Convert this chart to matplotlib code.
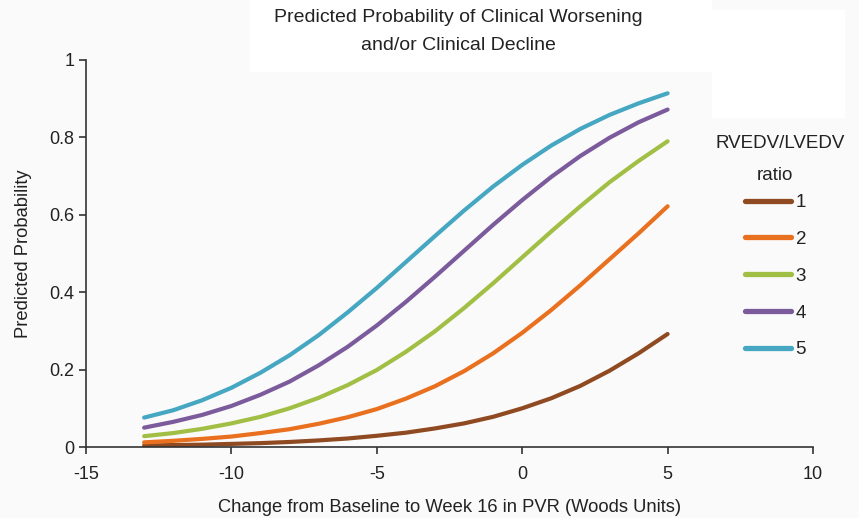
import matplotlib
matplotlib.use("Agg")
import matplotlib.pyplot as plt
from matplotlib.patches import Rectangle

plt.rcParams["font.family"] = ["Liberation Sans", "DejaVu Sans"]
plt.rcParams["axes.unicode_minus"] = False

# change from baseline to week 16 in PVR (Woods units)
pvr_change = [-13, -12, -11, -10, -9, -8, -7, -6, -5, -4, -3, -2, -1, 0, 1, 2, 3, 4, 5]

# predicted probability, one list per RVEDV/LVEDV ratio
ratio_labels = ["1", "2", "3", "4", "5"]
prob_ratio1 = [0.004, 0.005, 0.006, 0.008, 0.010, 0.013, 0.017, 0.022, 0.029, 0.037,
               0.048, 0.061, 0.078, 0.100, 0.126, 0.158, 0.197, 0.242, 0.292]
prob_ratio2 = [0.012, 0.016, 0.021, 0.027, 0.036, 0.046, 0.060, 0.077, 0.098, 0.125,
               0.157, 0.196, 0.242, 0.295, 0.354, 0.418, 0.485, 0.552, 0.622]
prob_ratio3 = [0.028, 0.036, 0.047, 0.061, 0.078, 0.100, 0.127, 0.160, 0.199, 0.246,
               0.299, 0.359, 0.423, 0.490, 0.557, 0.622, 0.684, 0.739, 0.790]
prob_ratio4 = [0.050, 0.065, 0.083, 0.106, 0.135, 0.169, 0.211, 0.259, 0.314, 0.375,
               0.440, 0.507, 0.574, 0.638, 0.698, 0.752, 0.799, 0.839, 0.872]
prob_ratio5 = [0.076, 0.095, 0.121, 0.153, 0.192, 0.237, 0.289, 0.348, 0.411, 0.478,
               0.545, 0.611, 0.673, 0.729, 0.779, 0.822, 0.858, 0.888, 0.914]

colors = ["#8f4a22", "#e8701f", "#a2bf45", "#7b5b9c", "#45a7c1"]
series = [prob_ratio1, prob_ratio2, prob_ratio3, prob_ratio4, prob_ratio5]

W, H = 859, 518
fig = plt.figure(figsize=(W / 100, H / 100), dpi=100, facecolor="#fafafa")

# white panels behind the title and the legend heading
fig.patches.append(Rectangle((250 / W, 1 - 72 / H), 462 / W, 72 / H,
                             transform=fig.transFigure, facecolor="white",
                             edgecolor="none", zorder=-1))
fig.patches.append(Rectangle((712 / W, 1 - 118 / H), 133 / W, 108 / H,
                             transform=fig.transFigure, facecolor="white",
                             edgecolor="none", zorder=-1))

ax = fig.add_axes([86 / W, 1 - 447 / H, 727 / W, 387 / H])
ax.set_facecolor("none")

for probs, color, label in zip(series, colors, ratio_labels):
    ax.plot(pvr_change, probs, color=color, lw=3.0, label=label,
            solid_capstyle="round", solid_joinstyle="round")

ax.set_xlim(-15, 10)
ax.set_ylim(0, 1)
ax.set_xticks([-15, -10, -5, 0, 5, 10])
ax.set_yticks([0, 0.2, 0.4, 0.6, 0.8, 1.0])
ax.set_yticklabels(["0", "0.2", "0.4", "0.6", "0.8", "1"])
ax.tick_params(direction="out", length=5, width=1.2, colors="#333333",
               labelsize=13, labelcolor="#222222")
ax.tick_params(axis="x", pad=9)
for side in ["top", "right"]:
    ax.spines[side].set_visible(False)
for side in ["left", "bottom"]:
    ax.spines[side].set_color("#333333")
    ax.spines[side].set_linewidth(1.2)

ax.set_xlabel("Change from Baseline to Week 16 in PVR (Woods Units)",
              fontsize=13.2, color="#222222", labelpad=11)
ax.set_ylabel("Predicted Probability", fontsize=13.2, color="#222222", labelpad=12)

fig.text(458 / W, 1 - 18 / H, "Predicted Probability of Clinical Worsening",
         ha="center", va="center", fontsize=14, color="#222222")
fig.text(458 / W, 1 - 45 / H, "and/or Clinical Decline",
         ha="center", va="center", fontsize=14, color="#222222")

# legend title drawn separately so the entries can sit off-centre as in the original
fig.text(780 / W, 1 - 143 / H, "RVEDV/LVEDV", ha="center", va="center",
         fontsize=13.5, color="#222222")
fig.text(775 / W, 1 - 175 / H, "ratio", ha="center", va="center",
         fontsize=13.5, color="#222222")

leg = ax.legend(loc="upper left", bbox_to_anchor=(745 / W, 1 - 194 / H),
                bbox_transform=fig.transFigure, frameon=False, fontsize=13.5,
                handlelength=2.45, handletextpad=0.25, labelspacing=1.05,
                borderpad=0, borderaxespad=0)
for line in leg.get_lines():
    line.set_linewidth(3.8)
for txt in leg.get_texts():
    txt.set_color("#222222")

fig.savefig("out.png", dpi=100, facecolor=fig.get_facecolor())
